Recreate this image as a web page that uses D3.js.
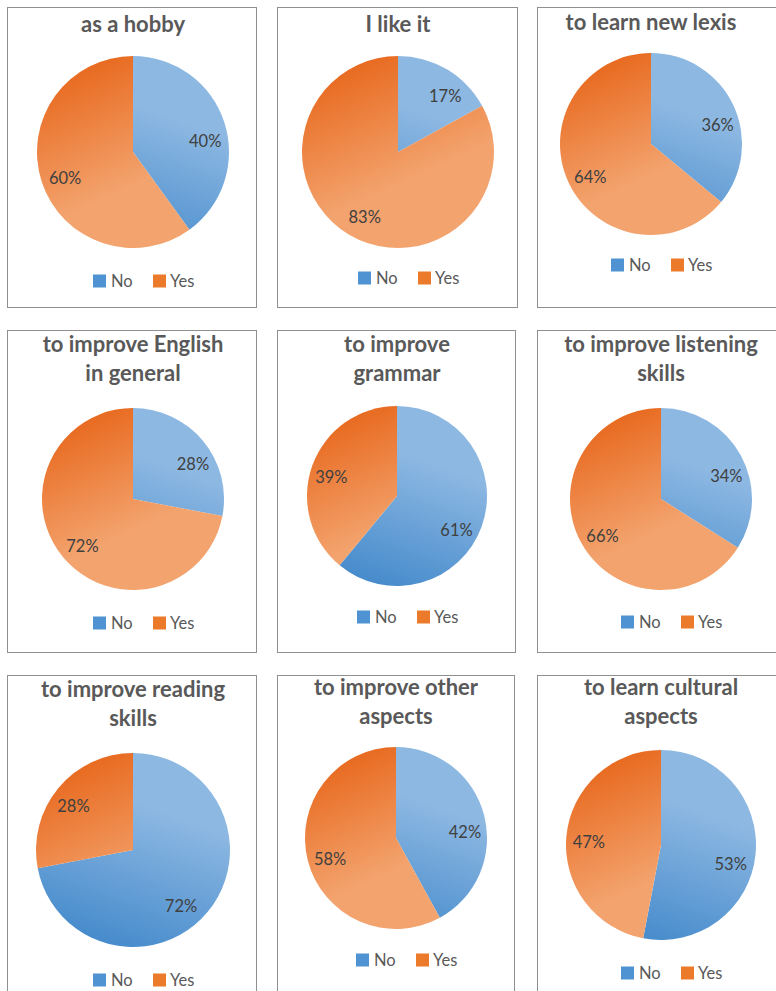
<!DOCTYPE html>
<html>
<head>
  <meta charset="UTF-8">
  <title>Reasons pies</title>
  <style>
    body { margin: 0; background: #fff; }
    svg { display: block; }
  </style>
</head>
<body>
<svg></svg>
<script src="https://d3js.org/d3.v7.min.js"></script>
<script>
    let width = 776, height = 991;

    // data (percent answering No / Yes)
    var titles = [
        ["as a hobby"],
        ["I like it"],
        ["to learn new lexis"],
        ["to improve English", "in general"],
        ["to improve", "grammar"],
        ["to improve listening", "skills"],
        ["to improve reading", "skills"],
        ["to improve other", "aspects"],
        ["to learn cultural", "aspects"]
    ];
    var noValues  = [40, 17, 36, 28, 61, 34, 72, 42, 53];
    var yesValues = [60, 83, 64, 72, 39, 66, 28, 58, 47];
    var categories = ["No", "Yes"];

    // panel frames and pie placement
    var frames = [
        [7, 7, 249, 300], [277, 7, 240, 300], [537, 7, 260, 300],
        [7, 330, 249, 322], [277, 330, 238, 322], [537, 330, 260, 322],
        [7, 675, 249, 340], [277, 675, 237, 340], [537, 675, 260, 340]
    ];
    var pies = [
        {cx: 133, cy: 152, r: 96, t: 32, lg: 281},
        {cx: 398, cy: 152, r: 96, t: 32, lg: 278},
        {cx: 651, cy: 144, r: 91, t: 30, lg: 265},
        {cx: 133, cy: 499, r: 91, t: 352, lg: 623},
        {cx: 397, cy: 496, r: 90, t: 352, lg: 617},
        {cx: 661, cy: 499, r: 91, t: 352, lg: 622},
        {cx: 133, cy: 850, r: 97, t: 697, lg: 980},
        {cx: 396, cy: 838, r: 91, t: 695, lg: 960},
        {cx: 661, cy: 845, r: 95, t: 695, lg: 973}
    ];

    let svg = d3.select("svg")
        .attr("width", width)
        .attr("height", height);

    let defs = svg.append("defs");

    var pie = d3.pie().sort(null).value(d => d.value);
    // excel's best-fit labels sit a little clockwise for No, a little back for Yes
    var labelTurn = {No: 0.17, Yes: -0.06};

    titles.forEach(function(title, i) {
        var f = frames[i], p = pies[i];

        svg.append("rect")
            .attr("x", f[0] + 0.5)
            .attr("y", f[1] + 0.5)
            .attr("width", f[2])
            .attr("height", f[3])
            .attr("fill", "#fff")
            .attr("stroke", "#8f8f8f")
            .attr("stroke-width", 1);

        // gradients, in the pie's own coordinates
        var r = p.r;
        var gNo = defs.append("linearGradient")
            .attr("id", "no" + i)
            .attr("gradientUnits", "userSpaceOnUse")
            .attr("x1", 0.5 * r).attr("y1", -r)
            .attr("x2", -0.2 * r).attr("y2", r);
        gNo.append("stop").attr("offset", "0.3").attr("stop-color", "#8db8e2");
        gNo.append("stop").attr("offset", "1").attr("stop-color", "#468bcc");

        var gYes = defs.append("linearGradient")
            .attr("id", "yes" + i)
            .attr("gradientUnits", "userSpaceOnUse")
            .attr("x1", -0.5 * r).attr("y1", -r)
            .attr("x2", 0.1 * r).attr("y2", 0.3 * r);
        gYes.append("stop").attr("offset", "0").attr("stop-color", "#e7661a");
        gYes.append("stop").attr("offset", "1").attr("stop-color", "#f3a36e");

        var data = [
            {key: "No", value: noValues[i]},
            {key: "Yes", value: yesValues[i]}
        ];

        var arc = d3.arc().innerRadius(0).outerRadius(r);
        var labelArc = d3.arc().innerRadius(r * 0.76).outerRadius(r * 0.76);

        var g = svg.append("g")
            .attr("transform", "translate(" + p.cx + "," + p.cy + ")");

        g.selectAll("path")
            .data(pie(data))
            .enter()
            .append("path")
            .attr("d", arc)
            .attr("fill", d => d.data.key == "No" ? "url(#no" + i + ")" : "url(#yes" + i + ")");

        g.selectAll("text")
            .data(pie(data))
            .enter()
            .append("text")
            .attr("transform", function(d) {
                var t = labelTurn[d.data.key];
                var m = {startAngle: d.startAngle + t, endAngle: d.endAngle + t};
                return "translate(" + labelArc.centroid(m) + ")";
            })
            .attr("text-anchor", "middle")
            .attr("dy", "0.35em")
            .style("font-family", "Lato, 'Open Sans', sans-serif")
            .style("font-size", "16.5px")
            .style("fill", "#404040")
            .text(d => d.data.value + "%");

        // title
        svg.append("text")
            .attr("x", p.cx)
            .attr("y", p.t)
            .attr("text-anchor", "middle")
            .style("font-family", "Lato, 'Open Sans', sans-serif")
            .style("font-weight", "bold")
            .style("font-size", "22px")
            .style("fill", "#595959")
            .selectAll("tspan")
            .data(title)
            .enter()
            .append("tspan")
            .attr("x", p.cx)
            .attr("dy", (d, j) => j == 0 ? 0 : 29)
            .text(d => d);

        // legend
        var legend = svg.append("g")
            .attr("transform", "translate(" + p.cx + "," + p.lg + ")");
        legend.selectAll("rect")
            .data(categories)
            .enter()
            .append("rect")
            .attr("x", (d, j) => j == 0 ? -40 : 20)
            .attr("y", -6.5)
            .attr("width", 13)
            .attr("height", 13)
            .attr("fill", d => d == "No" ? "#4f93d2" : "#eb7a2b");
        legend.selectAll("text")
            .data(categories)
            .enter()
            .append("text")
            .attr("x", (d, j) => j == 0 ? -22 : 37)
            .attr("dy", "0.36em")
            .style("font-family", "Lato, 'Open Sans', sans-serif")
            .style("font-size", "16.5px")
            .style("fill", "#595959")
            .text(d => d);
    });
</script>
</body>
</html>
